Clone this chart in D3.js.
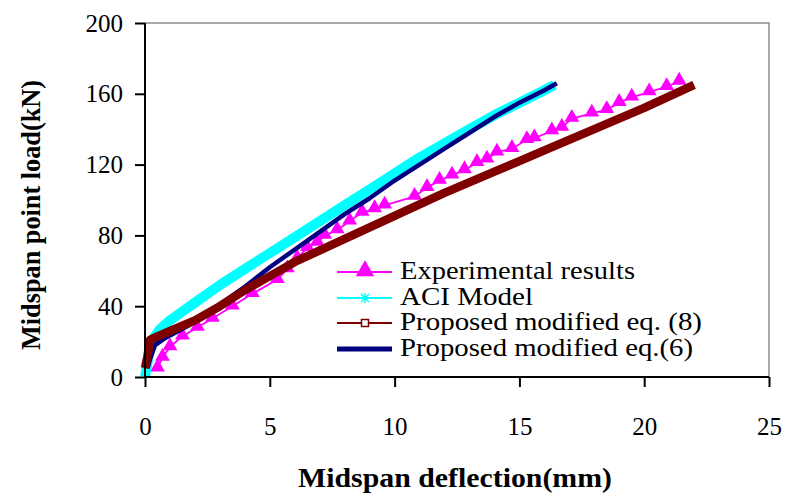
<!DOCTYPE html>
<html>
<head>
<meta charset="utf-8">
<script src="https://cdn.jsdelivr.net/npm/d3@7"></script>
<style>
  body { margin: 0; background: #fff; }
  svg { display: block; }
  svg text { font-family: "Liberation Serif", "Times New Roman", serif; }
</style>
</head>
<body>
<script>
// values: [deflection mm, load kN]
const experimental = [[0.5,5],[0.7,11],[1.0,17],[1.5,23],[2.1,28],[2.7,33],[3.5,40],[4.3,47],
  [5.3,55],[5.7,61],[6.1,67],[6.5,73],[6.9,76],[7.2,80],[7.7,83],[8.2,88],[8.7,93],[9.2,95],[9.6,97],
  [10.8,102],[11.3,107],[11.8,111],[12.3,114],[12.8,117],[13.3,121],[13.7,123],[14.1,127],
  [14.7,129],[15.3,134],[15.6,135],[16.3,139],[16.7,141],[17.1,146],[17.9,149],[18.5,151],
  [19.0,155],[19.5,158],[20.2,161],[20.9,164],[21.4,167]];
const aciModel = [[0,0],[0.1,8],[0.2,17],[0.35,22],[0.6,27],[1,32],[1.5,37],[2,42],[3,52],[4,61],
  [5,70],[6,79],[7,88],[8,97],[9,106],[10,115],[11,124],[12,132],[13,140],[14,148],[15,155],[16,162],[16.4,165]];
const eq8 = [[0,5],[0.1,12],[0.2,21],[0.5,23],[1,26],[2,32],[3,40],[4,49],[5,57],[6,65],[8,78],
  [10,91],[12,104],[14,116],[15,122],[16,128],[18,140],[20,152],[22,165]];
const eq6 = [[0.1,5],[0.2,10],[0.4,18],[0.7,21],[1,23.5],[2,31],[3,41],[4,51],[5,62],
  [6,72],[7,82],[8,92],[9,101],[10,111],[11,120],[12,129],[13,138],[14,147],[15,155],[16,162],[16.5,166]];

const xTicks = [0, 5, 10, 15, 20, 25];
const yTicks = [0, 40, 80, 120, 160, 200];
const legendNames = ["Experimental results", "ACI Model", "Proposed modified eq. (8)", "Proposed modified eq.(6)"];

const width = 786, height = 499;
const pLeft = 145, pRight = 769, pTop = 23, pBottom = 377;

const svg = d3.select("body").append("svg")
  .attr("width", width).attr("height", height);

const x = d3.scaleLinear().domain([0, 25]).range([pLeft, pRight]);
const y = d3.scaleLinear().domain([0, 200]).range([pBottom, pTop]);

// grey frame on top and right
svg.append("path")
  .attr("d", `M${pLeft},${pTop}H${pRight}V${pBottom}`)
  .attr("fill", "none").attr("stroke", "#8c8c8c").attr("stroke-width", 1.5);

const line = d3.line().x(d => x(d[0])).y(d => y(d[1]));

const triangle = d3.symbol().type(d3.symbolTriangle).size(95);

// experimental
svg.append("path").datum(experimental)
  .attr("d", line).attr("fill", "none")
  .attr("stroke", "#ff00ff").attr("stroke-width", 1.8);
svg.selectAll(".tri").data(experimental).enter().append("path")
  .attr("class", "tri")
  .attr("d", triangle)
  .attr("transform", d => `translate(${x(d[0])},${y(d[1]) - 1})`)
  .attr("fill", "#ff00ff");

// ACI
svg.append("path").datum(aciModel)
  .attr("d", line).attr("fill", "none")
  .attr("stroke", "#00ffff").attr("stroke-width", 10)
  .attr("stroke-linejoin", "round");

// eq. (6)
svg.append("path").datum(eq6)
  .attr("d", line).attr("fill", "none")
  .attr("stroke", "#000080").attr("stroke-width", 4.5)
  .attr("stroke-linejoin", "round");

// eq. (8)
svg.append("path").datum(eq8)
  .attr("d", line).attr("fill", "none")
  .attr("stroke", "#800000").attr("stroke-width", 8.5)
  .attr("stroke-linejoin", "round");

// axes
const xAxis = svg.append("g")
  .attr("transform", `translate(0,${pBottom})`)
  .call(d3.axisBottom(x).tickValues(xTicks).tickSize(10).tickPadding(30).tickFormat(d3.format("d")));
const yAxis = svg.append("g")
  .attr("transform", `translate(${pLeft},0)`)
  .call(d3.axisLeft(y).tickValues(yTicks).tickSize(10).tickPadding(12).tickFormat(d3.format("d")));

[xAxis, yAxis].forEach(g => {
  g.attr("font-family", null).attr("font-size", null);
  g.select(".domain").attr("stroke", "#000").attr("stroke-width", 2);
  g.selectAll(".tick line").attr("stroke", "#000").attr("stroke-width", 2);
  g.selectAll(".tick text").attr("font-size", 25).attr("fill", "#000");
});
xAxis.select(".domain").attr("d", `M${pLeft},0H${pRight}`);
yAxis.select(".domain").attr("d", `M0,${pBottom}V${pTop}`);

// titles
svg.append("text")
  .attr("x", 455).attr("y", 487)
  .attr("text-anchor", "middle")
  .attr("font-size", 27).attr("font-weight", "bold")
  .attr("textLength", 314).attr("lengthAdjust", "spacingAndGlyphs")
  .text("Midspan deflection(mm)");
svg.append("text")
  .attr("transform", "translate(40,215) rotate(-90)")
  .attr("text-anchor", "middle")
  .attr("font-size", 27).attr("font-weight", "bold")
  .attr("textLength", 270).attr("lengthAdjust", "spacingAndGlyphs")
  .text("Midspan point load(kN)");

// legend
const legY = [272, 298, 323, 349];
const legW = [235, 133, 302, 293];
const lg = svg.append("g");
const lx1 = 337, lx2 = 392, lmid = 365;

lg.append("line").attr("x1", lx1).attr("x2", lx2).attr("y1", legY[0]).attr("y2", legY[0])
  .attr("stroke", "#ff00ff").attr("stroke-width", 1.8);
lg.append("path").attr("d", d3.symbol().type(d3.symbolTriangle).size(150))
  .attr("transform", `translate(${lmid},${legY[0] - 1})`).attr("fill", "#ff00ff");

lg.append("line").attr("x1", lx1).attr("x2", lx2).attr("y1", legY[1]).attr("y2", legY[1])
  .attr("stroke", "#00ffff").attr("stroke-width", 1.8);
lg.append("path").attr("d", "M-4,-4L4,4M-4,4L4,-4M0,-5V5")
  .attr("transform", `translate(${lmid},${legY[1]})`)
  .attr("stroke", "#00ffff").attr("stroke-width", 1.5);

lg.append("line").attr("x1", lx1).attr("x2", lx2).attr("y1", legY[2]).attr("y2", legY[2])
  .attr("stroke", "#800000").attr("stroke-width", 1.8);
lg.append("rect").attr("x", lmid - 3.5).attr("y", legY[2] - 3.5).attr("width", 7).attr("height", 7)
  .attr("fill", "#fff").attr("stroke", "#800000").attr("stroke-width", 1.5);

lg.append("line").attr("x1", lx1).attr("x2", lx2).attr("y1", legY[3]).attr("y2", legY[3])
  .attr("stroke", "#000080").attr("stroke-width", 5);

lg.selectAll("text").data(legendNames).enter().append("text")
  .attr("x", 400).attr("y", (d, i) => legY[i] + 7)
  .attr("font-size", 25)
  .attr("textLength", (d, i) => legW[i]).attr("lengthAdjust", "spacingAndGlyphs")
  .text(d => d);
</script>
</body>
</html>
